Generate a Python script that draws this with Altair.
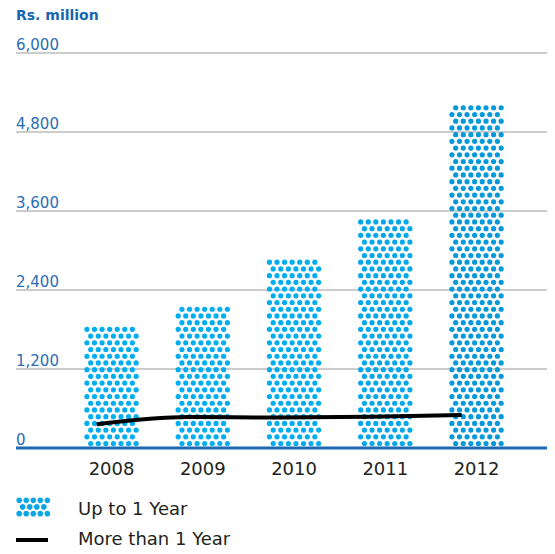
import altair as alt
import pandas as pd

years = ["2008", "2009", "2010", "2011", "2012"]
up_to_1_year = [1885, 2170, 2855, 3480, 5200]
more_than_1_year = [360, 470, 463, 474, 500]
y_ticks = [0, 1200, 2400, 3600, 4800, 6000]
legend_labels = ["Up to 1 Year", "More than 1 Year"]
unit_title = "Rs. million"

FONT = "DejaVu Sans"
BLUE_TXT = "#2a6db6"
DOT_COLORS = ["#00adee", "#00adee", "#00adee", "#04a8e8", "#0599da"]

# ---- dot texture for the bars (derived from bar values) ----
ROW_STEP = 102.0   # data units between dot rows
FIRST_ROW = 68.0
DOT_R = 40.0
N_SLOTS = 14
rows = []
for yr, v in zip(years, up_to_1_year):
    k = 0
    while True:
        yc = FIRST_ROW + k * ROW_STEP
        if yc + DOT_R > v + 12:
            break
        slots = range(1, N_SLOTS, 2) if k % 2 == 0 else range(0, N_SLOTS, 2)
        for s in slots:
            rows.append({"year": yr, "slot": s, "y": yc})
        k += 1
dots = pd.DataFrame(rows)

line_df = pd.DataFrame({"year": years, "value": more_than_1_year})
tick_df = pd.DataFrame({"v": y_ticks})
W, H = 531, 395

x_scale = alt.Scale(domain=years, paddingInner=0.419, paddingOuter=0.619, align=0.611)
y_scale = alt.Scale(domain=[0, 6000], nice=False)

x_axis = alt.Axis(title=None, domain=False, ticks=False, labelAngle=0, labelFont=FONT,
                  labelFontSize=18, labelColor="#231f20", labelPadding=12)

grid = alt.Chart(tick_df).mark_rule(color="#9a9a9a", strokeWidth=1.2).encode(
    y=alt.Y("v:Q", scale=y_scale, axis=None)
)

dots_layer = alt.Chart(dots).mark_circle(size=27, opacity=1).encode(
    x=alt.X("year:N", scale=x_scale, axis=x_axis),
    xOffset=alt.XOffset("slot:N", scale=alt.Scale(domain=list(range(N_SLOTS)), paddingInner=0, paddingOuter=0.5)),
    y=alt.Y("y:Q", scale=y_scale, axis=None),
    color=alt.Color("year:N", scale=alt.Scale(domain=years, range=DOT_COLORS), legend=None),
)

baseline = alt.Chart(tick_df[tick_df.v == 0]).mark_rule(color="#1d68b0", strokeWidth=3).encode(
    y=alt.Y("v:Q", scale=y_scale, axis=None)
)

line = alt.Chart(line_df).mark_line(color="black", strokeWidth=4, interpolate="monotone").encode(
    x=alt.X("year:N", scale=x_scale, bandPosition=0.22, axis=x_axis),
    y=alt.Y("value:Q", scale=y_scale, axis=None),
)

ylabels = alt.Chart(tick_df).mark_text(align="left", baseline="alphabetic", dy=-3, font=FONT,
                                       fontSize=15, color=BLUE_TXT).encode(
    x=alt.value(0),
    y=alt.Y("v:Q", scale=y_scale, axis=None),
    text=alt.Text("v:Q", format=","),
)

title = alt.Chart(pd.DataFrame({"t": [unit_title]})).mark_text(
    align="left", baseline="middle", font=FONT, fontSize=14, fontWeight="bold", color="#1666b0"
).encode(x=alt.value(0), y=alt.value(-37), text="t:N")

# legend
def circle(cx, cy, r):
    return f"M{cx - r:.3f},{cy:.3f}a{r},{r} 0 1,0 {2 * r},0a{r},{r} 0 1,0 {-2 * r},0Z"

parts = []
for i, cy in enumerate([-0.42, 0.0, 0.42]):
    xs = [-0.8, -0.36, 0.08, 0.52, 0.96] if i % 2 == 0 else [-0.58, -0.14, 0.30, 0.74]
    for cx in xs:
        parts.append(circle(cx, cy, 0.18))
swatch_path = "".join(parts)

one = pd.DataFrame({"a": [0]})
swatch = alt.Chart(one).mark_point(shape=swatch_path, size=1024, filled=True, fill="#0aa6e6",
                                   strokeWidth=0, opacity=1).encode(
    x=alt.value(16), y=alt.value(454)
)
leg_line = alt.Chart(one).mark_rule(color="black", strokeWidth=4).encode(
    x=alt.value(0), x2=alt.value(32), y=alt.value(487)
)
leg_df = pd.DataFrame({"label": legend_labels})
leg_text1 = alt.Chart(leg_df).transform_filter(alt.datum.label == legend_labels[0]).mark_text(
    align="left", baseline="middle", font=FONT, fontSize=18, color="#231f20"
).encode(x=alt.value(62), y=alt.value(457), text="label:N")
leg_text2 = alt.Chart(leg_df).transform_filter(alt.datum.label == legend_labels[1]).mark_text(
    align="left", baseline="middle", font=FONT, fontSize=18, color="#231f20"
).encode(x=alt.value(62), y=alt.value(487), text="label:N")

chart = alt.layer(grid, dots_layer, baseline, line, ylabels, title, swatch, leg_line,
                  leg_text1, leg_text2).properties(
    width=W, height=H,
    autosize=alt.AutoSizeParams(type="none"),
    padding={"left": 8, "top": 45, "right": 0, "bottom": 103},
).configure_view(stroke=None)

chart.save("out.html", embed_options={"renderer": "svg", "actions": False})
